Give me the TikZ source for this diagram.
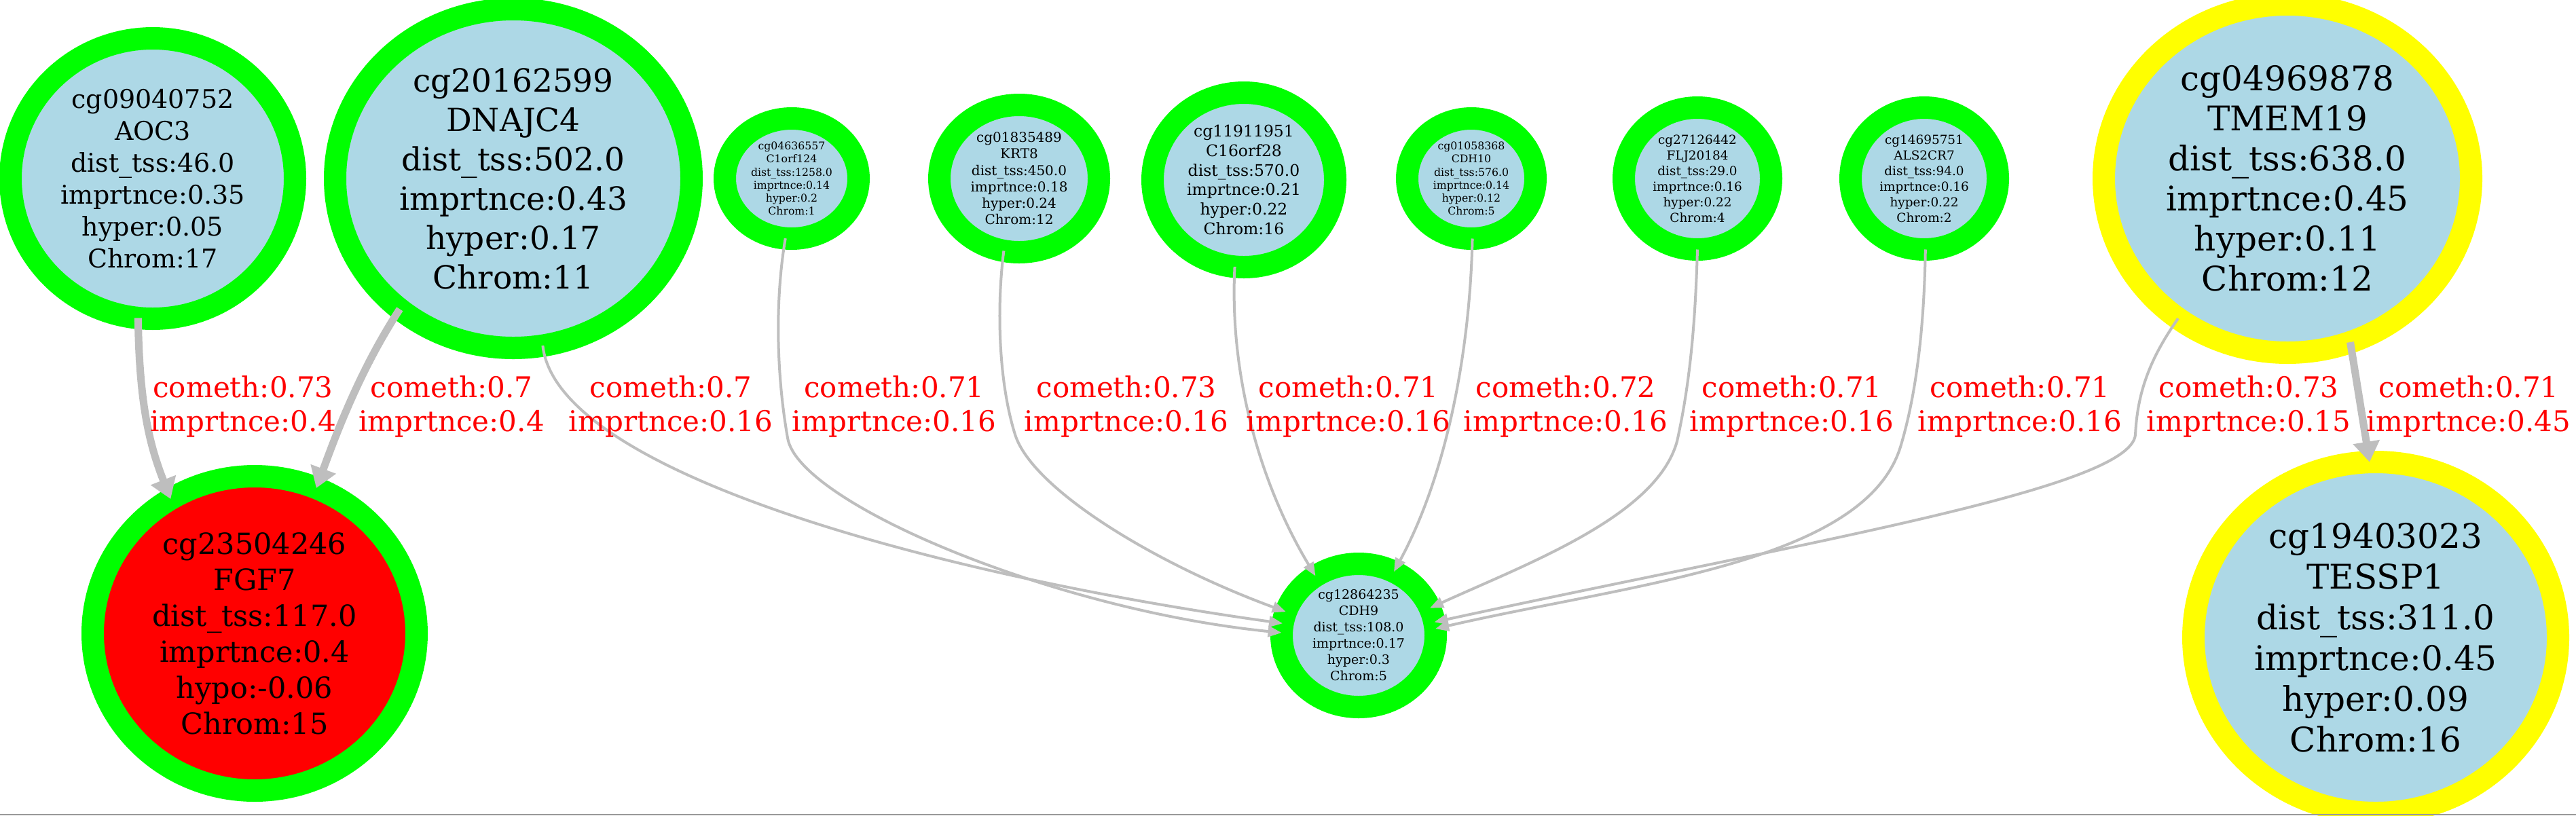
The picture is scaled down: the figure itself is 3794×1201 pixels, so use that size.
\documentclass[tikz,border=0pt]{standalone}
\usepackage{fontspec}
\setmainfont{DejaVu Serif}
\usetikzlibrary{shapes.geometric,arrows.meta}
\definecolor{lb}{HTML}{ADD8E6}
\definecolor{gr}{HTML}{00FF00}
\definecolor{yl}{HTML}{FFFF00}
\definecolor{rd}{HTML}{FF0000}
\definecolor{eg}{HTML}{BEBEBE}
\newcommand\fsz[2]{\fontsize{#1}{#2}\selectfont}
\begin{document}
\begin{tikzpicture}[x=0.5pt,y=-0.5pt,
  cpg/.style={ellipse, draw=gr, fill=lb, line width=16.5pt, inner sep=0pt, outer sep=0pt, align=center, text=black},
  hyp/.style={cpg, draw=yl},
  hypo/.style={cpg, fill=rd},
  ethin/.style={draw=eg, line width=2pt, -{Triangle[length=10pt,width=8pt]}},
  ethick/.style={draw=eg, line width=5.5pt, -{Triangle[length=15pt,width=19pt]}},
  lbl/.style={text=rd, align=center, inner sep=0pt, font=\fsz{21pt}{25pt}}]
\fill[white] (0,0) rectangle (3794,1201);
\useasboundingbox (0,0) rectangle (3794,1201);
% nodes
\node[cpg, minimum width=209.5pt, minimum height=206.5pt, font=\fsz{19pt}{23.5pt}] (aoc3) at (225,263)
  {cg09040752\\AOC3\\dist\_tss:46.0\\imprtnce:0.35\\hyper:0.05\\Chrom:17};
\node[cpg, minimum width=262.5pt, minimum height=249.5pt, font=\fsz{23.5pt}{29pt}] (dnajc4) at (756,263)
  {cg20162599\\DNAJC4\\dist\_tss:502.0\\imprtnce:0.43\\hyper:0.17\\Chrom:11};
\node[cpg, minimum width=98.5pt, minimum height=88.5pt, font=\fsz{7.85pt}{9.6pt}] (c1orf124) at (1166,263)
  {cg04636557\\C1orf124\\dist\_tss:1258.0\\imprtnce:0.14\\hyper:0.2\\Chrom:1};
\node[cpg, minimum width=117.5pt, minimum height=108.5pt, font=\fsz{10pt}{12.1pt}] (krt8) at (1501,263)
  {cg01835489\\KRT8\\dist\_tss:450.0\\imprtnce:0.18\\hyper:0.24\\Chrom:12};
\node[cpg, minimum width=134.5pt, minimum height=128.5pt, font=\fsz{11.75pt}{14.4pt}] (c16orf28) at (1832,265)
  {cg11911951\\C16orf28\\dist\_tss:570.0\\imprtnce:0.21\\hyper:0.22\\Chrom:16};
\node[cpg, minimum width=94.5pt, minimum height=88.5pt, font=\fsz{7.85pt}{9.6pt}] (cdh10) at (2167,263)
  {cg01058368\\CDH10\\dist\_tss:576.0\\imprtnce:0.14\\hyper:0.12\\Chrom:5};
\node[cpg, minimum width=108.5pt, minimum height=104.5pt, font=\fsz{9.2pt}{11.5pt}] (flj20184) at (2500,263)
  {cg27126442\\FLJ20184\\dist\_tss:29.0\\imprtnce:0.16\\hyper:0.22\\Chrom:4};
\node[cpg, minimum width=108.5pt, minimum height=104.5pt, font=\fsz{9.2pt}{11.5pt}] (als2cr7) at (2834,263)
  {cg14695751\\ALS2CR7\\dist\_tss:94.0\\imprtnce:0.16\\hyper:0.22\\Chrom:2};
\node[hyp, minimum width=270.5pt, minimum height=256.5pt, font=\fsz{25pt}{29.5pt}] (tmem19) at (3369,263)
  {cg04969878\\TMEM19\\dist\_tss:638.0\\imprtnce:0.45\\hyper:0.11\\Chrom:12};
\node[hypo, minimum width=238.5pt, minimum height=231.5pt, font=\fsz{21.5pt}{26.5pt}] (fgf7) at (375,933)
  {cg23504246\\FGF7\\dist\_tss:117.0\\imprtnce:0.4\\hypo:-0.06\\Chrom:15};
\node[cpg, minimum width=113.5pt, minimum height=105.5pt, font=\fsz{9.5pt}{12pt}] (cdh9) at (2001,936)
  {cg12864235\\CDH9\\dist\_tss:108.0\\imprtnce:0.17\\hyper:0.3\\Chrom:5};
\node[hyp, minimum width=268.5pt, minimum height=258.5pt, font=\fsz{25pt}{30pt}] (tessp1) at (3499,939)
  {cg19403023\\TESSP1\\dist\_tss:311.0\\imprtnce:0.45\\hyper:0.09\\Chrom:16};
% edges
\draw[ethick] (aoc3.264) .. controls (205,600) and (222,660) .. (fgf7.122);
\draw[ethick] (dnajc4.229) .. controls (530,545) and (495,640) .. (fgf7.67);
\draw[ethin] (dnajc4.280) .. controls (820,700) and (1400,850) .. (cdh9.171);
\draw[ethin] (c1orf124.264) .. controls (1140,450) and (1145,560) .. (1160,645)
  .. controls (1175,740) and (1550,898) .. (cdh9.178);
\draw[ethin] (krt8.258) .. controls (1468,450) and (1470,560) .. (1495,640)
  .. controls (1520,720) and (1700,830) .. (cdh9.162);
\draw[ethin] (c16orf28.264) .. controls (1810,560) and (1860,720) .. (cdh9.126);
\draw[ethin] (cdh10.271) .. controls (2165,520) and (2130,700) .. (cdh9.61);
\draw[ethin] (flj20184.270) .. controls (2497,470) and (2490,560) .. (2470,650)
  .. controls (2440,760) and (2250,830) .. (cdh9.21);
\draw[ethin] (als2cr7.271) .. controls (2834,470) and (2825,570) .. (2800,655)
  .. controls (2750,830) and (2400,860) .. (cdh9.5);
\draw[ethin] (tmem19.232) .. controls (3165,530) and (3148,580) .. (3145,640)
  .. controls (3140,720) and (2650,800) .. (cdh9.10);
\draw[ethick] (tmem19.291) -- (tessp1.92);
% edge labels
\node[lbl] (l1) at (358,599) {cometh:0.73\\imprtnce:0.4};
\node[lbl] (l2) at (665,599) {cometh:0.7\\imprtnce:0.4};
\node[lbl] (l3) at (988,599) {cometh:0.7\\imprtnce:0.16};
\node[lbl] (l4) at (1317,599) {cometh:0.71\\imprtnce:0.16};
\node[lbl] (l5) at (1659,599) {cometh:0.73\\imprtnce:0.16};
\node[lbl] (l6) at (1986,599) {cometh:0.71\\imprtnce:0.16};
\node[lbl] (l7) at (2306,599) {cometh:0.72\\imprtnce:0.16};
\node[lbl] (l8) at (2639,599) {cometh:0.71\\imprtnce:0.16};
\node[lbl] (l9) at (2975,599) {cometh:0.71\\imprtnce:0.16};
\node[lbl] (l10) at (3312,599) {cometh:0.73\\imprtnce:0.15};
\node[lbl] (l11) at (3636,599) {cometh:0.71\\imprtnce:0.45};
% bottom rule
\draw[line width=1pt, color=black!40] (0,1200) -- (3794,1200);
\end{tikzpicture}
\end{document}
